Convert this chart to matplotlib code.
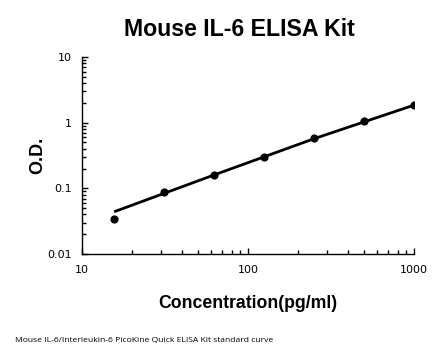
import matplotlib
matplotlib.use("Agg")
import matplotlib.pyplot as plt
from matplotlib.ticker import LogLocator, FixedLocator, FixedFormatter

conc = [15.625, 31.25, 62.5, 125, 250, 500, 1000]
od = [0.034, 0.089, 0.162, 0.30, 0.58, 1.06, 1.85]
fit_x = [15.625, 62.5, 250, 1000]
fit_y = [0.044, 0.16, 0.57, 1.85]

x_ticks = [10, 100, 1000]
x_labels = ["10", "100", "1000"]
y_ticks = [0.01, 0.1, 1, 10]
y_labels = ["0.01", "0.1", "1", "10"]

fig = plt.figure(figsize=(4.46, 3.56), dpi=100)
ax = fig.add_axes([0.1839, 0.2865, 0.7444, 0.5534])

ax.plot(fit_x, fit_y, color="black", lw=2.0, solid_capstyle="butt", zorder=2)
ax.scatter(conc, od, s=24, color="black", zorder=3)

ax.set_xscale("log")
ax.set_yscale("log")
ax.set_xlim(10, 1000)
ax.set_ylim(0.01, 10)

ax.xaxis.set_major_locator(FixedLocator(x_ticks))
ax.xaxis.set_major_formatter(FixedFormatter(x_labels))
ax.yaxis.set_major_locator(FixedLocator(y_ticks))
ax.yaxis.set_major_formatter(FixedFormatter(y_labels))
ax.xaxis.set_minor_locator(LogLocator(base=10, subs=range(2, 10)))
ax.yaxis.set_minor_locator(LogLocator(base=10, subs=range(2, 10)))
ax.xaxis.set_minor_formatter(FixedFormatter([]))
ax.yaxis.set_minor_formatter(FixedFormatter([]))

for s in ["top", "right"]:
    ax.spines[s].set_visible(False)
for s in ["left", "bottom"]:
    ax.spines[s].set_linewidth(1.0)

ax.tick_params(which="major", direction="in", length=4, width=1, labelsize=8,
               colors="black")
ax.tick_params(which="minor", direction="in", length=3, width=1)
ax.tick_params(axis="y", which="major", pad=7)
ax.tick_params(axis="x", which="major", pad=8)

for lab in ax.get_xticklabels() + ax.get_yticklabels():
    lab.set_family("DejaVu Sans")

ax.set_xlabel("Concentration(pg/ml)", fontsize=12.7, fontweight="bold",
              family="Liberation Sans", labelpad=14)
ax.set_ylabel("O.D.", fontsize=13, fontweight="bold",
              family="Liberation Sans", labelpad=1)

fig.text(0.537, 0.918, "Mouse IL-6 ELISA Kit", ha="center", va="center",
         fontsize=16.7, fontweight="bold", family="Liberation Sans")
fig.text(0.034, 0.043, "Mouse IL-6/Interleukin-6 PicoKine Quick ELISA Kit standard curve",
         ha="left", va="center", fontsize=6.1, family="Open Sans")

fig.savefig("out.png", dpi=100)
